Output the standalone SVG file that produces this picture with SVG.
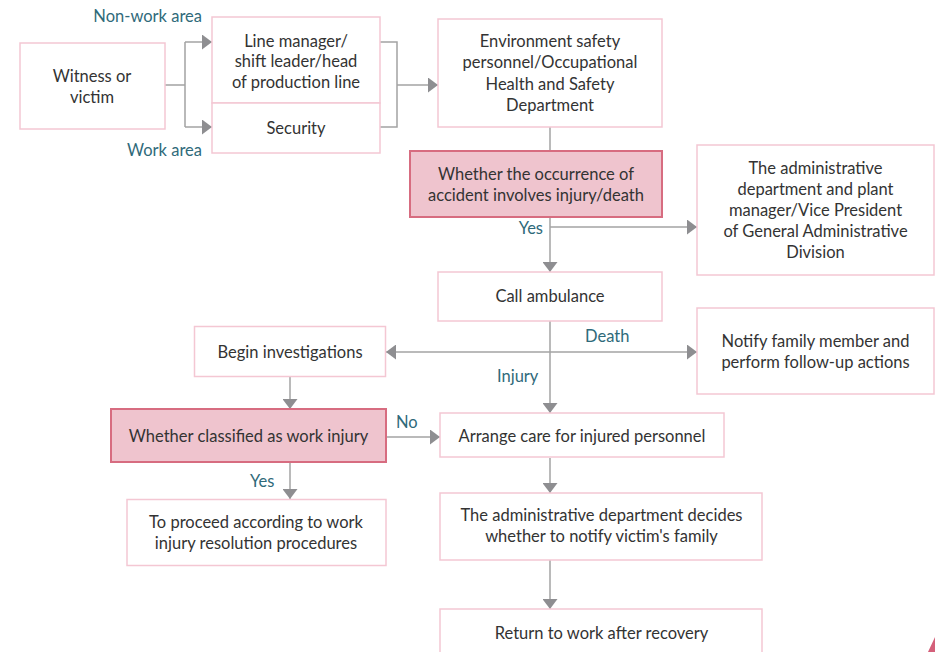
<svg xmlns="http://www.w3.org/2000/svg" width="935" height="652" viewBox="0 0 935 652">
<style>
.box{fill:#fff;stroke:#f4c7d3;stroke-width:1.5}
.dec{fill:#efc4ce;stroke:#d76c80;stroke-width:2}
.t{font-family:Lato,"Noto Sans",sans-serif;font-size:16.5px;fill:#333;text-anchor:middle}
.lb{font-family:Lato,"Noto Sans",sans-serif;font-size:16.5px;fill:#2f6a7a}
.ln{fill:none;stroke:#a3a3a3;stroke-width:1.5}
</style>
<defs>
<marker id="ah" viewBox="0 0 10 15" refX="10" refY="7.5" markerWidth="10" markerHeight="15" markerUnits="userSpaceOnUse" orient="auto">
<path d="M0,0 L10,7.5 L0,15 Z" fill="#8e8e91"/>
</marker>
</defs>
<g id="connectors">
<path class="ln" d="M165,85 H185 M185,42 V127"/>
<path class="ln" d="M185,42 H212" marker-end="url(#ah)"/>
<path class="ln" d="M185,127 H212" marker-end="url(#ah)"/>
<path class="ln" d="M380,42 H397 V127 H380"/>
<path class="ln" d="M397,85 H438" marker-end="url(#ah)"/>
<path class="ln" d="M550,127 V150"/>
<path class="ln" d="M550,217 V272" marker-end="url(#ah)"/>
<path class="ln" d="M550,227 H697" marker-end="url(#ah)"/>
<path class="ln" d="M550,321 V413" marker-end="url(#ah)"/>
<path class="ln" d="M550,352 H386" marker-end="url(#ah)"/>
<path class="ln" d="M550,352 H697" marker-end="url(#ah)"/>
<path class="ln" d="M290,377 V409" marker-end="url(#ah)"/>
<path class="ln" d="M386,437 H440" marker-end="url(#ah)"/>
<path class="ln" d="M290,463 V499" marker-end="url(#ah)"/>
<path class="ln" d="M550,458 V493" marker-end="url(#ah)"/>
<path class="ln" d="M550,560 V609" marker-end="url(#ah)"/>
<text class="lb" x="202" y="22" text-anchor="end">Non-work area</text>
<text class="lb" x="202" y="156" text-anchor="end">Work area</text>
<text class="lb" x="543" y="234" text-anchor="end">Yes</text>
<text class="lb" x="585" y="342">Death</text>
<text class="lb" x="497" y="382">Injury</text>
<text class="lb" x="396" y="428">No</text>
<text class="lb" x="250" y="487">Yes</text>
</g>
<g id="witness"><rect class="box" x="20" y="43" width="145" height="86"/><text class="t" x="92" y="81.5">Witness or</text><text class="t" x="92" y="102.5">victim</text></g>
<g id="linemanager"><rect class="box" x="212" y="17" width="168" height="86"/><text class="t" x="296" y="46.5">Line manager/</text><text class="t" x="296" y="67">shift leader/head</text><text class="t" x="296" y="87.5">of production line</text></g>
<g id="security"><rect class="box" x="212" y="103" width="168" height="50"/><text class="t" x="296" y="133.5">Security</text></g>
<g id="env"><rect class="box" x="438" y="19" width="224" height="108"/><text class="t" x="550" y="46.5">Environment safety</text><text class="t" x="550" y="68">personnel/Occupational</text><text class="t" x="550" y="89.5">Health and Safety</text><text class="t" x="550" y="111">Department</text></g>
<g id="decision1"><rect class="dec" x="410" y="151" width="252" height="66"/><text class="t" x="536" y="179.5">Whether the occurrence of</text><text class="t" x="536" y="201">accident involves injury/death</text></g>
<g id="admin"><rect class="box" x="697" y="145" width="237" height="130"/><text class="t" x="815.5" y="174">The administrative</text><text class="t" x="815.5" y="195">department and plant</text><text class="t" x="815.5" y="216">manager/Vice President</text><text class="t" x="815.5" y="237">of General Administrative</text><text class="t" x="815.5" y="258">Division</text></g>
<g id="ambulance"><rect class="box" x="438" y="272" width="224" height="49"/><text class="t" x="550" y="302">Call ambulance</text></g>
<g id="notify"><rect class="box" x="697" y="308" width="237" height="86"/><text class="t" x="815.5" y="346.5">Notify family member and</text><text class="t" x="815.5" y="367.5">perform follow-up actions</text></g>
<g id="investigate"><rect class="box" x="194.5" y="326.5" width="191" height="50"/><text class="t" x="290" y="357.5">Begin investigations</text></g>
<g id="decision2"><rect class="dec" x="111" y="409" width="275" height="53"/><text class="t" x="248.5" y="441.5">Whether classified as work injury</text></g>
<g id="care"><rect class="box" x="440" y="413" width="284" height="44"/><text class="t" x="582" y="441.5">Arrange care for injured personnel</text></g>
<g id="proceed"><rect class="box" x="127" y="499.5" width="259" height="66"/><text class="t" x="256" y="527.5">To proceed according to work</text><text class="t" x="256" y="548.5">injury resolution procedures</text></g>
<g id="decides"><rect class="box" x="440" y="493" width="322" height="67"/><text class="t" x="601.5" y="520.5">The administrative department decides</text><text class="t" x="601.5" y="542">whether to notify victim's family</text></g>
<g id="return"><rect class="box" x="440" y="609" width="322" height="50"/><text class="t" x="601.5" y="639">Return to work after recovery</text></g>
<polygon points="928,652 935,637 935,652" fill="#d4607a"/>
</svg>
